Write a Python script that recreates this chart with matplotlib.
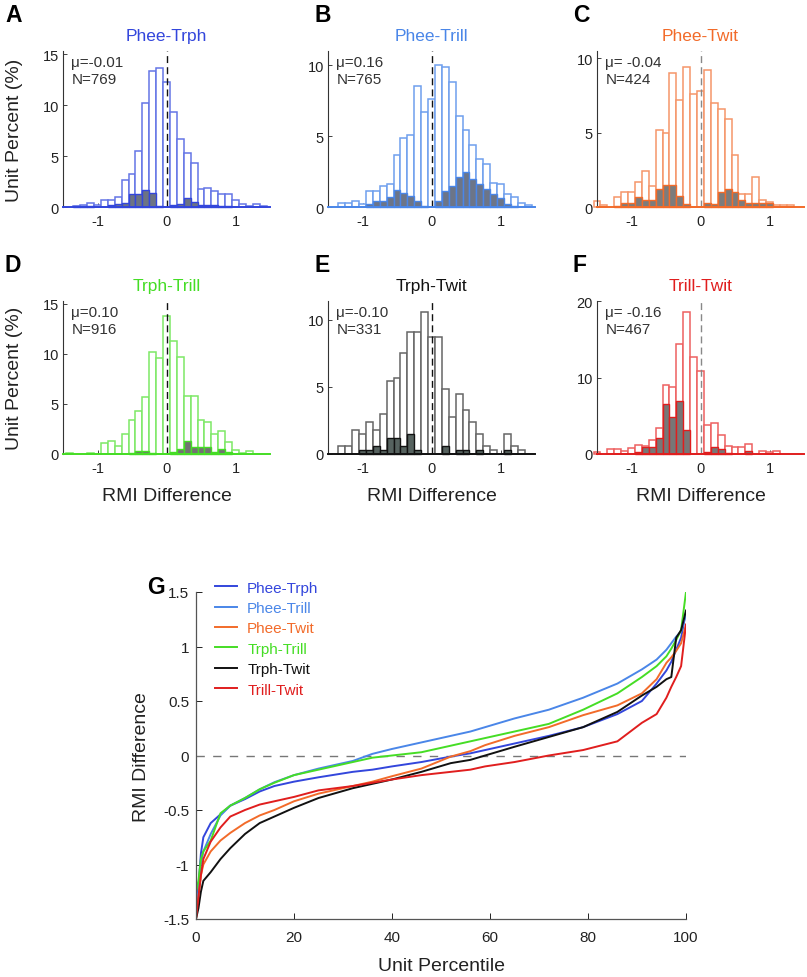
import numpy as np
import matplotlib
matplotlib.use("Agg")
import matplotlib.pyplot as plt

plt.rcParams["font.family"] = ["Liberation Sans", "DejaVu Sans"]
plt.rcParams["axes.unicode_minus"] = False

# bin centers of the RMI difference histograms
bin_centers = [-1.5, -1.4, -1.3, -1.2, -1.1, -1.0, -0.9, -0.8, -0.7, -0.6, -0.5,
               -0.4, -0.3, -0.2, -0.1, 0.0, 0.1, 0.2, 0.3, 0.4, 0.5,
               0.6, 0.7, 0.8, 0.9, 1.0, 1.1, 1.2, 1.3, 1.4, 1.5]

pairs = ["Phee-Trph", "Phee-Trill", "Phee-Twit", "Trph-Trill", "Trph-Twit", "Trill-Twit"]
means = ["\u03bc=-0.01", "\u03bc=0.16", "\u03bc= -0.04", "\u03bc=0.10", "\u03bc=-0.10", "\u03bc= -0.16"]
counts = ["N=769", "N=765", "N=424", "N=916", "N=331", "N=467"]

# percent of units per bin (all units)
total_A = [0, 0, 0.1, 0.2, 0.4, 0.2, 0.7, 0.7, 1.0, 2.6, 3.2, 5.5, 10.2, 13.3, 13.6, 12.3,
           9.3, 6.7, 5.3, 4.3, 1.8, 1.9, 1.6, 1.3, 1.3, 0.7, 0.3, 0.1, 0.3, 0.1, 0]
total_B = [0, 0, 0.28, 0.28, 0.4, 0.2, 1.1, 1.1, 1.45, 1.6, 3.7, 4.85, 5.1, 8.55, 6.7, 7.65,
           10.0, 9.9, 8.8, 6.4, 5.4, 4.4, 3.4, 3.0, 1.7, 1.6, 0.95, 0.7, 0.3, 0.15, 0]
total_C = [0.4, 0.15, 0, 0.7, 1.0, 1.0, 1.7, 2.45, 1.4, 5.2, 5.0, 9.0, 7.2, 9.4, 7.6, 7.8,
           9.2, 7.0, 6.6, 5.9, 3.5, 0.9, 0.9, 2.0, 0.5, 0.35, 0.15, 0.15, 0.15, 0, 0]
total_D = [0, 0.1, 0, 0, 0.1, 0.05, 1.1, 1.35, 0.8, 2.0, 3.4, 4.3, 5.7, 10.2, 9.6, 13.8,
           11.3, 9.7, 5.8, 5.8, 3.4, 3.2, 2.0, 2.3, 1.2, 0.4, 0.1, 0.3, 0.05, 0, 0]
total_E = [0, 0, 0.6, 0.6, 1.8, 1.5, 2.4, 1.8, 3.0, 5.45, 5.7, 7.5, 9.1, 9.1, 10.6, 8.75,
           8.75, 4.85, 2.75, 4.5, 3.25, 2.4, 1.5, 0.6, 0.3, 0, 1.5, 0.6, 0.3, 0, 0]
total_F = [0.2, 0, 0.6, 0.6, 0.4, 0.8, 1.2, 1.05, 1.8, 3.35, 9.0, 8.8, 14.4, 18.5, 12.7, 10.8,
           3.8, 4.05, 2.5, 1.1, 0.85, 0.85, 1.25, 0, 0.35, 0.2, 0.35, 0, 0, 0, 0]

# percent of units per bin (significant units, filled)
sig_A = [0, 0, 0.1, 0.1, 0.1, 0, 0, 0.2, 0.3, 0.4, 1.3, 1.3, 1.7, 1.4, 0.1, 0,
         0.2, 0.3, 0.9, 0.5, 0.2, 0.2, 0.2, 0.1, 0.1, 0, 0, 0, 0, 0, 0]
sig_B = [0, 0, 0, 0, 0, 0, 0.2, 0.45, 0.45, 0.7, 1.2, 1.0, 0.8, 0.4, 0.1, 0,
         0.45, 1.1, 1.45, 2.1, 2.45, 2.0, 1.6, 1.3, 0.95, 0.6, 0.2, 0.1, 0, 0, 0]
sig_C = [0, 0, 0, 0.1, 0.25, 0.25, 0.7, 0.45, 0.5, 1.2, 1.5, 1.5, 0.75, 0.2, 0, 0,
         0.25, 0.2, 1.0, 1.2, 1.0, 0.45, 0.25, 0.25, 0.25, 0.25, 0, 0, 0, 0, 0]
sig_D = [0, 0, 0, 0, 0, 0, 0, 0, 0, 0, 0.1, 0.3, 0.3, 0.1, 0, 0,
         0.25, 0.55, 1.35, 0.7, 0.7, 0.7, 0.2, 0.5, 0.2, 0, 0, 0, 0, 0, 0]
sig_E = [0, 0, 0, 0, 0, 0.3, 0.3, 0.6, 0.3, 1.2, 1.2, 0.6, 1.5, 0.3, 0, 0,
         0, 0.6, 0, 0.3, 0.3, 0, 0.3, 0, 0, 0, 0.3, 0, 0, 0, 0]
sig_F = [0, 0, 0, 0, 0, 0, 0.2, 0.85, 0.85, 2.1, 6.6, 4.9, 6.9, 3.2, 0, 0,
         0.2, 0.85, 0.6, 0.1, 0, 0, 0.4, 0, 0, 0, 0, 0, 0, 0, 0]

# sorted RMI difference vs unit percentile (panel G)
percentile = [0, 0.5, 1, 1.5, 3, 5, 7, 10, 13, 16, 20, 25, 32, 36, 40, 46, 52, 56, 59,
              65, 72, 79, 86, 91, 94, 96, 97, 98, 99, 100]
rmi_phee_trph = [-1.35, -1.2, -0.9, -0.75, -0.62, -0.54, -0.46, -0.40, -0.33, -0.28, -0.24,
                 -0.20, -0.15, -0.13, -0.10, -0.06, -0.01, 0.02, 0.05, 0.11, 0.18, 0.26,
                 0.38, 0.50, 0.66, 0.78, 0.86, 0.97, 1.08, 1.32]
rmi_phee_trill = [-1.35, -1.25, -1.0, -0.88, -0.72, -0.55, -0.46, -0.39, -0.31, -0.245, -0.18,
                  -0.12, -0.05, 0.015, 0.06, 0.12, 0.18, 0.22, 0.26, 0.34, 0.42, 0.53,
                  0.66, 0.79, 0.88, 0.97, 1.03, 1.09, 1.14, 1.30]
rmi_phee_twit = [-1.5, -1.3, -1.1, -1.0, -0.88, -0.78, -0.71, -0.62, -0.55, -0.50, -0.42,
                 -0.35, -0.28, -0.24, -0.19, -0.12, -0.01, 0.04, 0.095, 0.18, 0.26, 0.37,
                 0.46, 0.57, 0.70, 0.85, 0.90, 0.96, 1.03, 1.20]
rmi_trph_trill = [-1.25, -1.15, -0.95, -0.88, -0.78, -0.53, -0.46, -0.39, -0.31, -0.25, -0.18,
                  -0.13, -0.06, -0.02, 0.0, 0.03, 0.09, 0.13, 0.16, 0.22, 0.29, 0.42,
                  0.57, 0.72, 0.82, 0.91, 0.98, 1.06, 1.15, 1.50]
rmi_trph_twit = [-1.5, -1.4, -1.25, -1.15, -1.07, -0.95, -0.85, -0.72, -0.62, -0.56, -0.48,
                 -0.39, -0.30, -0.26, -0.22, -0.15, -0.07, -0.04, 0.0, 0.08, 0.17, 0.26,
                 0.40, 0.55, 0.63, 0.70, 0.72, 1.08, 1.15, 1.33]
rmi_trill_twit = [-1.5, -1.3, -1.1, -0.95, -0.79, -0.66, -0.56, -0.50, -0.45, -0.42, -0.38,
                  -0.32, -0.28, -0.25, -0.22, -0.18, -0.15, -0.13, -0.10, -0.06, 0.0, 0.05,
                  0.13, 0.30, 0.38, 0.53, 0.63, 0.72, 0.82, 1.20]

colors = ["#3346dc", "#4a86e8", "#f26b2a", "#45dd25", "#111111", "#e01e1e"]
light_colors = ["#6475e6", "#6f9fee", "#f5966a", "#7de866", "#666666", "#ee6060"]
fill_colors = ["#6c7384", "#6c7588", "#7c7c7c", "#727272", "#56625f", "#777777"]
zero_colors = ["#111111", "#111111", "#888888", "#111111", "#111111", "#888888"]

totals = [total_A, total_B, total_C, total_D, total_E, total_F]
sigs = [sig_A, sig_B, sig_C, sig_D, sig_E, sig_F]
letters = ["A", "B", "C", "D", "E", "F"]
ytops = [15.3, 11.0, 10.5, 15.3, 11.4, 20.0]
yticks = [[0, 5, 10, 15], [0, 5, 10], [0, 5, 10], [0, 5, 10, 15], [0, 5, 10], [0, 10, 20]]

W, H = 807, 978
fig = plt.figure(figsize=(W / 100, H / 100), dpi=100)


def axes_px(left, top, w, h):
    return fig.add_axes([left / W, 1 - (top + h) / H, w / W, h / H])


lefts = [63, 328, 597]
tops = [52, 302]
heights = [156, 153]
letter_x = [5, 314, 573]
letter_y = [15, 266]
x = np.array(bin_centers)

for i in range(6):
    row, col = i // 3, i % 3
    ax = axes_px(lefts[col], tops[row], 207, heights[row])
    tot = np.array(totals[i])
    sig = np.array(sigs[i])
    m = tot > 0
    ax.bar(x[m], tot[m], width=0.1, facecolor="white", edgecolor=light_colors[i],
           linewidth=1.1, clip_on=False, zorder=2)
    m = sig > 0
    ax.bar(x[m], sig[m], width=0.1, facecolor=fill_colors[i], edgecolor=colors[i],
           linewidth=1.0, clip_on=False, zorder=3)
    ax.axvline(0, color=zero_colors[i], linestyle=(0, (5, 3)), linewidth=1.0, zorder=4)

    ax.set_xlim(-1.5, 1.5)
    ax.set_ylim(0, ytops[i])
    ax.set_xticks([-1, 0, 1])
    ax.set_yticks(yticks[i])
    for s in ["top", "right"]:
        ax.spines[s].set_visible(False)
    ax.spines["left"].set_color("#333333")
    ax.spines["left"].set_linewidth(0.8)
    ax.spines["bottom"].set_color(colors[i])
    ax.spines["bottom"].set_linewidth(1.4)
    ax.spines["bottom"].set_zorder(5)
    ax.tick_params(direction="in", length=3, width=0.6, labelsize=10.5,
                   colors="#222222", pad=3)
    ax.tick_params(axis="x", pad=5)

    ax.set_title(pairs[i], color=colors[i], fontsize=12.5, pad=8)
    ax.text(0.04, 0.93, means[i], transform=ax.transAxes, fontsize=11,
            color="#333333", va="center", ha="left")
    ax.text(0.04, 0.82, counts[i], transform=ax.transAxes, fontsize=11,
            color="#333333", va="center", ha="left")

    fig.text(letter_x[col] / W, 1 - letter_y[row] / H, letters[i],
             fontsize=16.5, fontweight="bold", ha="left", va="center")

    if col == 0:
        fig.text(15 / W, 1 - (tops[row] + heights[row] / 2) / H, "Unit Percent (%)",
                 rotation=90, fontsize=14, ha="center", va="center", color="#222222")
    if row == 1:
        fig.text((lefts[col] + 103.5) / W, 1 - 497 / H, "RMI Difference",
                 fontsize=14, ha="center", va="center", color="#222222")

# panel G
axg = axes_px(196, 593, 490, 327)
curves = [rmi_phee_trph, rmi_phee_trill, rmi_phee_twit, rmi_trph_trill, rmi_trph_twit, rmi_trill_twit]
axg.plot([0, 100], [0, 0], color="#777777", linestyle=(0, (6, 6)), linewidth=1.0)
for name, vals, c in zip(pairs, curves, colors):
    axg.plot(percentile, vals, color=c, linewidth=1.4, label=name)

axg.set_xlim(0, 100)
axg.set_ylim(-1.5, 1.5)
axg.set_xticks([0, 20, 40, 60, 80, 100])
axg.set_yticks([-1.5, -1, -0.5, 0, 0.5, 1, 1.5])
axg.set_yticklabels(["-1.5", "-1", "-0.5", "0", "0.5", "1", "1.5"])
for s in ["top", "right"]:
    axg.spines[s].set_visible(False)
for s in ["left", "bottom"]:
    axg.spines[s].set_color("#555555")
    axg.spines[s].set_linewidth(0.9)
axg.tick_params(direction="in", length=4, width=0.7, labelsize=11, colors="#222222")
axg.tick_params(axis="x", pad=8)
axg.tick_params(axis="y", pad=5)

leg = axg.legend(loc="upper left", bbox_to_anchor=(0.039, 1.035), frameon=False,
                 fontsize=11, handlelength=1.45, handletextpad=0.65, labelspacing=0.42,
                 borderpad=0, borderaxespad=0, labelcolor="linecolor")

fig.text(141 / W, 1 - 757 / H, "RMI Difference", rotation=90, fontsize=14,
         ha="center", va="center", color="#222222")
fig.text(441 / W, 1 - 967 / H, "Unit Percentile", fontsize=14,
         ha="center", va="center", color="#222222")
fig.text(147 / W, 1 - 587 / H, "G", fontsize=16.5, fontweight="bold", ha="left", va="center")

fig.savefig("out.png", dpi=100)
